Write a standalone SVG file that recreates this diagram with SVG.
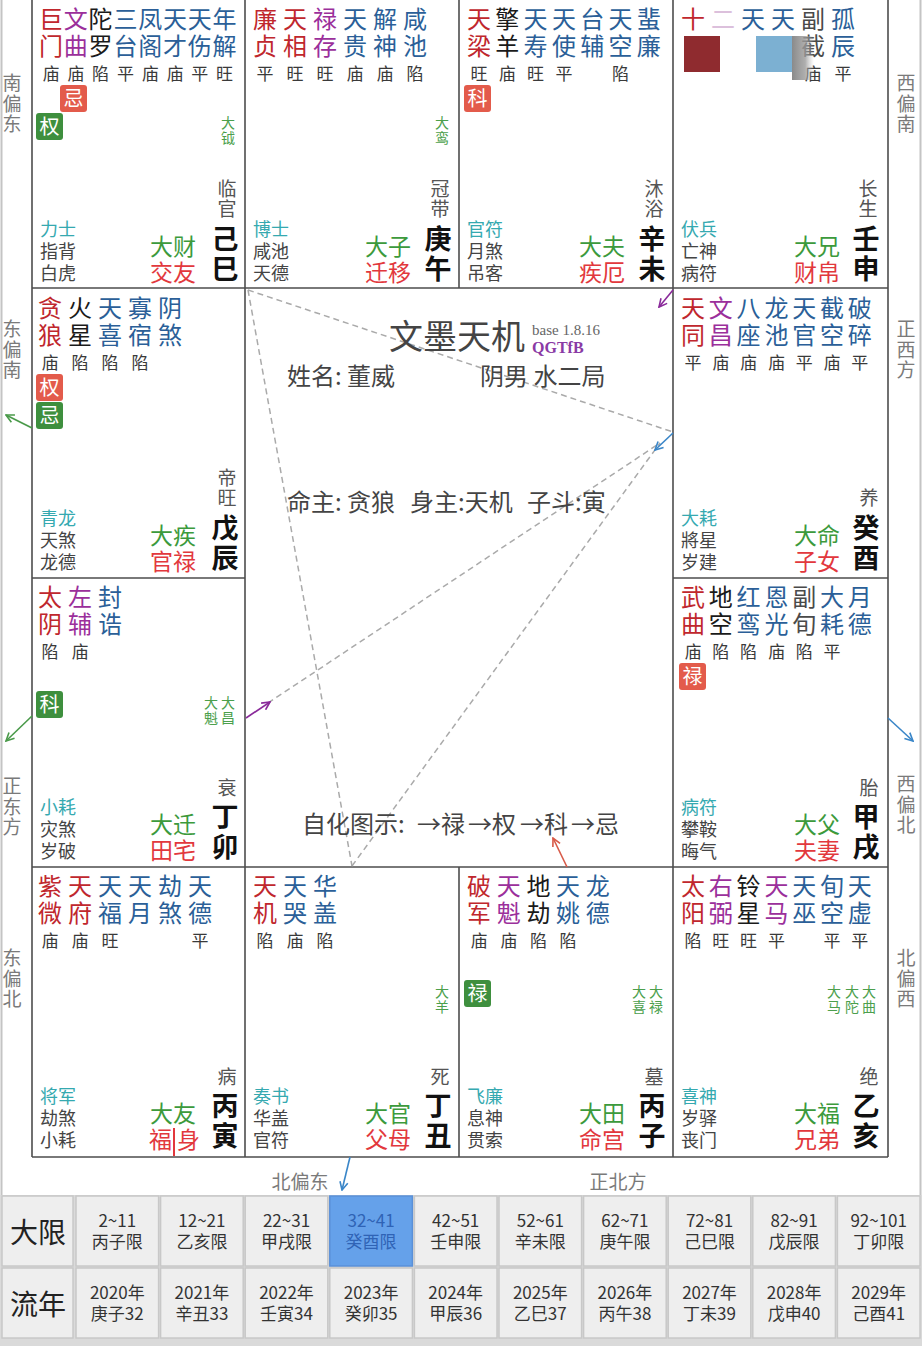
<svg xmlns="http://www.w3.org/2000/svg" width="922" height="1346" viewBox="0 0 922 1346">
<style>
text{font-family:"Noto Sans CJK SC","Noto Sans",sans-serif}
.s{font-size:24px;text-anchor:middle}
.m{fill:#c0272d}.p{fill:#9b2f9b}.k{fill:#1a1a1a}.b{fill:#2b5f98}.g{fill:#4a4a4a}
.br{font-size:17px;fill:#3a3a3a;text-anchor:middle}
.bd{font-size:20px;fill:#fff;text-anchor:middle}
.rb{fill:#e35b4b}.gb{fill:#3e8f3e}
.sm{font-size:14px;fill:#4c9f4c;text-anchor:middle}
.cs{font-size:19px;fill:#555;text-anchor:middle}
.gz{font-size:27px;font-weight:700;fill:#111;text-anchor:middle}
.dg{font-size:23px;fill:#3c9a3c}
.dr{font-size:23px;fill:#e2383d}
.tl{font-size:18px;fill:#35a9b0}
.gs{font-size:18px;fill:#444}
.dir{font-size:19px;fill:#7a7a7a;text-anchor:middle}
.ln{stroke:#4d4d4d;stroke-width:1.6;fill:none}
.dash{stroke:#aaa;stroke-width:1.5;stroke-dasharray:6 4;fill:none}
.tc{fill:#eeeeee;stroke:#c8c8c8;stroke-width:1.5}
.tt{font-size:17px;fill:#333;text-anchor:middle}
.tl2{font-size:28px;fill:#222;text-anchor:middle}
.ct{font-size:24px;fill:#444}
</style>
<defs>
<marker id="ag" viewBox="0 0 10 10" refX="9" refY="5" markerWidth="10" markerHeight="10" markerUnits="userSpaceOnUse" orient="auto"><path d="M1,1 L9,5 L1,9" fill="none" stroke="#4a9a4a" stroke-width="1.6"/></marker>
<marker id="ab" viewBox="0 0 10 10" refX="9" refY="5" markerWidth="10" markerHeight="10" markerUnits="userSpaceOnUse" orient="auto"><path d="M1,1 L9,5 L1,9" fill="none" stroke="#3a86c8" stroke-width="1.6"/></marker>
<marker id="ap" viewBox="0 0 10 10" refX="9" refY="5" markerWidth="10" markerHeight="10" markerUnits="userSpaceOnUse" orient="auto"><path d="M1,1 L9,5 L1,9" fill="none" stroke="#8a2a9a" stroke-width="1.6"/></marker>
<marker id="ar" viewBox="0 0 10 10" refX="9" refY="5" markerWidth="10" markerHeight="10" markerUnits="userSpaceOnUse" orient="auto"><path d="M1,1 L9,5 L1,9" fill="none" stroke="#d85a48" stroke-width="1.6"/></marker>
<linearGradient id="gfade" x1="0" y1="0" x2="1" y2="0"><stop offset="0" stop-color="#8a8a8a"/><stop offset="0.6" stop-color="#9a9a9a" stop-opacity="0.8"/><stop offset="1" stop-color="#bbb" stop-opacity="0"/></linearGradient>
</defs>
<rect x="0" y="0" width="922" height="1346" fill="#fff"/>

<g id="grid">
<line class="ln" x1="32" y1="0" x2="32" y2="1157"/>
<line class="ln" x1="888" y1="0" x2="888" y2="1157"/>
<line class="ln" x1="32" y1="1157" x2="888" y2="1157"/>
<line class="ln" x1="32" y1="288" x2="888" y2="288"/>
<line class="ln" x1="32" y1="867" x2="888" y2="867"/>
<line class="ln" x1="32" y1="578" x2="245" y2="578"/>
<line class="ln" x1="673" y1="578" x2="888" y2="578"/>
<line class="ln" x1="245" y1="0" x2="245" y2="1157"/>
<line class="ln" x1="459" y1="0" x2="459" y2="288"/>
<line class="ln" x1="459" y1="867" x2="459" y2="1157"/>
<line class="ln" x1="673" y1="0" x2="673" y2="1157"/>
<line x1="1.5" y1="0" x2="1.5" y2="1195" stroke="#c4c4c4" stroke-width="2"/>
<line x1="920.5" y1="0" x2="920.5" y2="1195" stroke="#c4c4c4" stroke-width="2"/>
</g>

<g id="directions">
<text class="dir" x="12" y="90">南<tspan x="12" dy="20.5">偏</tspan><tspan x="12" dy="20.5">东</tspan></text>
<text class="dir" x="12" y="336">东<tspan x="12" dy="20.5">偏</tspan><tspan x="12" dy="20.5">南</tspan></text>
<text class="dir" x="12" y="793">正<tspan x="12" dy="20.5">东</tspan><tspan x="12" dy="20.5">方</tspan></text>
<text class="dir" x="12" y="965">东<tspan x="12" dy="20.5">偏</tspan><tspan x="12" dy="20.5">北</tspan></text>
<text class="dir" x="906" y="90">西<tspan x="906" dy="20.5">偏</tspan><tspan x="906" dy="20.5">南</tspan></text>
<text class="dir" x="906" y="336">正<tspan x="906" dy="20.5">西</tspan><tspan x="906" dy="20.5">方</tspan></text>
<text class="dir" x="906" y="791">西<tspan x="906" dy="20.5">偏</tspan><tspan x="906" dy="20.5">北</tspan></text>
<text class="dir" x="906" y="965">北<tspan x="906" dy="20.5">偏</tspan><tspan x="906" dy="20.5">西</tspan></text>
<text class="dir" x="300" y="1189">北偏东</text>
<text class="dir" x="618" y="1189">正北方</text>
</g>

<g id="c-si" transform="translate(32,0)">
<text class="s m" x="19" y="28">巨<tspan x="19" dy="27">门</tspan></text>
<text class="s p" x="43.8" y="28">文<tspan x="43.8" dy="27">曲</tspan></text>
<text class="s k" x="68.6" y="28">陀<tspan x="68.6" dy="27">罗</tspan></text>
<text class="s b" x="93.4" y="28">三<tspan x="93.4" dy="27">台</tspan></text>
<text class="s b" x="118.2" y="28">凤<tspan x="118.2" dy="27">阁</tspan></text>
<text class="s b" x="143" y="28">天<tspan x="143" dy="27">才</tspan></text>
<text class="s b" x="167.8" y="28">天<tspan x="167.8" dy="27">伤</tspan></text>
<text class="s b" x="192.6" y="28">年<tspan x="192.6" dy="27">解</tspan></text>
<text class="br" x="19 43.8 68.6 93.4 118.2 143 167.8 192.6" y="80">庙庙陷平庙庙平旺</text>
<rect class="rb" x="28" y="85" width="27" height="27" rx="3"/><text class="bd" x="41.5" y="106">忌</text>
<rect class="gb" x="4" y="113" width="27" height="27" rx="3"/><text class="bd" x="17.5" y="134">权</text>
<text class="sm" x="196" y="128">大<tspan x="196" dy="15">钺</tspan></text>
<text class="cs" x="195" y="196">临<tspan x="195" dy="20">官</tspan></text>
<text class="gz" x="193" y="249">己<tspan x="193" dy="30">巳</tspan></text>
<text class="dg" x="118" y="255">大财</text><text class="dr" x="118" y="281">交友</text>
<text class="tl" x="8" y="236">力士</text><text class="gs" x="8" y="258">指背</text><text class="gs" x="8" y="280">白虎</text>
</g>

<g id="c-wu" transform="translate(245,0)">
<text class="s m" x="20" y="28">廉<tspan x="20" dy="27">贞</tspan></text>
<text class="s m" x="50" y="28">天<tspan x="50" dy="27">相</tspan></text>
<text class="s p" x="80" y="28">禄<tspan x="80" dy="27">存</tspan></text>
<text class="s b" x="110" y="28">天<tspan x="110" dy="27">贵</tspan></text>
<text class="s b" x="140" y="28">解<tspan x="140" dy="27">神</tspan></text>
<text class="s b" x="170" y="28">咸<tspan x="170" dy="27">池</tspan></text>
<text class="br" x="20 50 80 110 140 170" y="80">平旺旺庙庙陷</text>
<text class="sm" x="197" y="128">大<tspan x="197" dy="15">鸾</tspan></text>
<text class="cs" x="195" y="196">冠<tspan x="195" dy="20">带</tspan></text>
<text class="gz" x="193" y="249">庚<tspan x="193" dy="30">午</tspan></text>
<text class="dg" x="120" y="255">大子</text><text class="dr" x="120" y="281">迁移</text>
<text class="tl" x="8" y="236">博士</text><text class="gs" x="8" y="258">咸池</text><text class="gs" x="8" y="280">天德</text>
</g>

<g id="c-wei" transform="translate(459,0)">
<text class="s m" x="20" y="28">天<tspan x="20" dy="27">梁</tspan></text>
<text class="s k" x="48.3" y="28">擎<tspan x="48.3" dy="27">羊</tspan></text>
<text class="s b" x="76.6" y="28">天<tspan x="76.6" dy="27">寿</tspan></text>
<text class="s b" x="104.9" y="28">天<tspan x="104.9" dy="27">使</tspan></text>
<text class="s b" x="133.2" y="28">台<tspan x="133.2" dy="27">辅</tspan></text>
<text class="s b" x="161.5" y="28">天<tspan x="161.5" dy="27">空</tspan></text>
<text class="s b" x="189.8" y="28">蜚<tspan x="189.8" dy="27">廉</tspan></text>
<text class="br" x="20 48.3 76.6 104.9 161.5" y="80">旺庙旺平陷</text>
<rect class="rb" x="5" y="85" width="27" height="27" rx="3"/><text class="bd" x="18.5" y="106">科</text>
<text class="cs" x="195" y="196">沐<tspan x="195" dy="20">浴</tspan></text>
<text class="gz" x="193" y="249">辛<tspan x="193" dy="30">未</tspan></text>
<text class="dg" x="120" y="255">大夫</text><text class="dr" x="120" y="281">疾厄</text>
<text class="tl" x="8" y="236">官符</text><text class="gs" x="8" y="258">月煞</text><text class="gs" x="8" y="280">吊客</text>
</g>

<g id="c-shen" transform="translate(673,0)">
<text class="s m" x="20" y="28">十</text>
<text class="s" x="50" y="28" fill="#dcc0dc">二</text>
<text class="s b" x="80" y="28">天</text>
<text class="s b" x="110" y="28">天</text>
<text class="s g" x="140" y="28">副<tspan x="140" dy="27">截</tspan></text>
<text class="s b" x="170" y="28">孤<tspan x="170" dy="27">辰</tspan></text>
<text class="br" x="140 170" y="80">庙平</text>
<rect x="11" y="36" width="36" height="36" fill="#8f2b2f"/>
<rect x="83" y="36" width="36" height="36" fill="#7cb0d2"/>
<rect x="119" y="36" width="22" height="44" fill="url(#gfade)"/>
<text class="cs" x="195" y="196">长<tspan x="195" dy="20">生</tspan></text>
<text class="gz" x="193" y="249">壬<tspan x="193" dy="30">申</tspan></text>
<text class="dg" x="121" y="255">大兄</text><text class="dr" x="121" y="281">财帛</text>
<text class="tl" x="8" y="236">伏兵</text><text class="gs" x="8" y="258">亡神</text><text class="gs" x="8" y="280">病符</text>
</g>

<g id="c-chen" transform="translate(32,289)">
<text class="s m" x="18" y="28">贪<tspan x="18" dy="27">狼</tspan></text>
<text class="s k" x="48" y="28">火<tspan x="48" dy="27">星</tspan></text>
<text class="s b" x="78" y="28">天<tspan x="78" dy="27">喜</tspan></text>
<text class="s b" x="108" y="28">寡<tspan x="108" dy="27">宿</tspan></text>
<text class="s b" x="138" y="28">阴<tspan x="138" dy="27">煞</tspan></text>
<text class="br" x="18 48 78 108" y="80">庙陷陷陷</text>
<rect class="rb" x="4" y="85" width="27" height="27" rx="3"/><text class="bd" x="17.5" y="106">权</text>
<rect class="gb" x="4" y="113" width="27" height="27" rx="3"/><text class="bd" x="17.5" y="134">忌</text>
<text class="cs" x="195" y="196">帝<tspan x="195" dy="20">旺</tspan></text>
<text class="gz" x="193" y="249">戊<tspan x="193" dy="30">辰</tspan></text>
<text class="dg" x="118" y="255">大疾</text><text class="dr" x="118" y="281">官禄</text>
<text class="tl" x="8" y="236">青龙</text><text class="gs" x="8" y="258">天煞</text><text class="gs" x="8" y="280">龙德</text>
</g>

<g id="c-you" transform="translate(673,289)">
<text class="s m" x="20" y="28">天<tspan x="20" dy="27">同</tspan></text>
<text class="s p" x="47.8" y="28">文<tspan x="47.8" dy="27">昌</tspan></text>
<text class="s b" x="75.6" y="28">八<tspan x="75.6" dy="27">座</tspan></text>
<text class="s b" x="103.4" y="28">龙<tspan x="103.4" dy="27">池</tspan></text>
<text class="s b" x="131.2" y="28">天<tspan x="131.2" dy="27">官</tspan></text>
<text class="s b" x="159" y="28">截<tspan x="159" dy="27">空</tspan></text>
<text class="s b" x="186.8" y="28">破<tspan x="186.8" dy="27">碎</tspan></text>
<text class="br" x="20 47.8 75.6 103.4 131.2 159 186.8" y="80">平庙庙庙平庙平</text>
<text class="cs" x="196" y="216">养</text>
<text class="gz" x="193" y="249">癸<tspan x="193" dy="30">酉</tspan></text>
<text class="dg" x="121" y="255">大命</text><text class="dr" x="121" y="281">子女</text>
<text class="tl" x="8" y="236">大耗</text><text class="gs" x="8" y="258">將星</text><text class="gs" x="8" y="280">岁建</text>
</g>

<g id="c-mao" transform="translate(32,578)">
<text class="s m" x="18" y="28">太<tspan x="18" dy="27">阴</tspan></text>
<text class="s p" x="48" y="28">左<tspan x="48" dy="27">辅</tspan></text>
<text class="s b" x="78" y="28">封<tspan x="78" dy="27">诰</tspan></text>
<text class="br" x="18 48" y="80">陷庙</text>
<rect class="gb" x="4" y="113" width="27" height="27" rx="3"/><text class="bd" x="17.5" y="134">科</text>
<text class="sm" x="179" y="130">大<tspan x="179" dy="15">魁</tspan></text>
<text class="sm" x="196" y="130">大<tspan x="196" dy="15">昌</tspan></text>
<text class="cs" x="195" y="217">衰</text>
<text class="gz" x="193" y="249">丁<tspan x="193" dy="30">卯</tspan></text>
<text class="dg" x="118" y="255">大迁</text><text class="dr" x="118" y="281">田宅</text>
<text class="tl" x="8" y="236">小耗</text><text class="gs" x="8" y="258">灾煞</text><text class="gs" x="8" y="280">岁破</text>
</g>

<g id="c-xu" transform="translate(673,578)">
<text class="s m" x="20" y="28">武<tspan x="20" dy="27">曲</tspan></text>
<text class="s k" x="47.8" y="28">地<tspan x="47.8" dy="27">空</tspan></text>
<text class="s b" x="75.6" y="28">红<tspan x="75.6" dy="27">鸾</tspan></text>
<text class="s b" x="103.4" y="28">恩<tspan x="103.4" dy="27">光</tspan></text>
<text class="s g" x="131.2" y="28">副<tspan x="131.2" dy="27">旬</tspan></text>
<text class="s b" x="159" y="28">大<tspan x="159" dy="27">耗</tspan></text>
<text class="s b" x="186.8" y="28">月<tspan x="186.8" dy="27">德</tspan></text>
<text class="br" x="20 47.8 75.6 103.4 131.2 159" y="80">庙陷陷庙陷平</text>
<rect class="rb" x="6" y="85" width="27" height="27" rx="3"/><text class="bd" x="19.5" y="106">禄</text>
<text class="cs" x="196" y="217">胎</text>
<text class="gz" x="193" y="249">甲<tspan x="193" dy="30">戌</tspan></text>
<text class="dg" x="121" y="255">大父</text><text class="dr" x="121" y="281">夫妻</text>
<text class="tl" x="8" y="236">病符</text><text class="gs" x="8" y="258">攀鞍</text><text class="gs" x="8" y="280">晦气</text>
</g>

<g id="c-yin" transform="translate(32,867)">
<text class="s m" x="18" y="28">紫<tspan x="18" dy="27">微</tspan></text>
<text class="s m" x="48" y="28">天<tspan x="48" dy="27">府</tspan></text>
<text class="s b" x="78" y="28">天<tspan x="78" dy="27">福</tspan></text>
<text class="s b" x="108" y="28">天<tspan x="108" dy="27">月</tspan></text>
<text class="s b" x="138" y="28">劫<tspan x="138" dy="27">煞</tspan></text>
<text class="s b" x="168" y="28">天<tspan x="168" dy="27">德</tspan></text>
<text class="br" x="18 48 78 168" y="80">庙庙旺平</text>
<text class="cs" x="195" y="217">病</text>
<text class="gz" x="193" y="249">丙<tspan x="193" dy="30">寅</tspan></text>
<text class="dg" x="118" y="255">大友</text>
<text class="dr" x="117" y="281">福</text><text class="dr" x="145" y="281">身</text>
<line x1="142" y1="261" x2="142" y2="289" stroke="#e2383d" stroke-width="2"/>
<text class="tl" x="8" y="236">将军</text><text class="gs" x="8" y="258">劫煞</text><text class="gs" x="8" y="280">小耗</text>
</g>

<g id="c-chou" transform="translate(245,867)">
<text class="s m" x="20" y="28">天<tspan x="20" dy="27">机</tspan></text>
<text class="s b" x="50" y="28">天<tspan x="50" dy="27">哭</tspan></text>
<text class="s b" x="80" y="28">华<tspan x="80" dy="27">盖</tspan></text>
<text class="br" x="20 50 80" y="80">陷庙陷</text>
<text class="sm" x="197" y="130">大<tspan x="197" dy="15">羊</tspan></text>
<text class="cs" x="195" y="217">死</text>
<text class="gz" x="193" y="249">丁<tspan x="193" dy="30">丑</tspan></text>
<text class="dg" x="120" y="255">大官</text><text class="dr" x="120" y="281">父母</text>
<text class="tl" x="8" y="236">奏书</text><text class="gs" x="8" y="258">华盖</text><text class="gs" x="8" y="280">官符</text>
</g>

<g id="c-zi" transform="translate(459,867)">
<text class="s m" x="20" y="28">破<tspan x="20" dy="27">军</tspan></text>
<text class="s p" x="49.7" y="28">天<tspan x="49.7" dy="27">魁</tspan></text>
<text class="s k" x="79.4" y="28">地<tspan x="79.4" dy="27">劫</tspan></text>
<text class="s b" x="109.1" y="28">天<tspan x="109.1" dy="27">姚</tspan></text>
<text class="s b" x="138.8" y="28">龙<tspan x="138.8" dy="27">德</tspan></text>
<text class="br" x="20 49.7 79.4 109.1" y="80">庙庙陷陷</text>
<rect class="gb" x="5" y="113" width="27" height="27" rx="3"/><text class="bd" x="18.5" y="134">禄</text>
<text class="sm" x="180" y="130">大<tspan x="180" dy="15">喜</tspan></text>
<text class="sm" x="197" y="130">大<tspan x="197" dy="15">禄</tspan></text>
<text class="cs" x="195" y="217">墓</text>
<text class="gz" x="193" y="249">丙<tspan x="193" dy="30">子</tspan></text>
<text class="dg" x="120" y="255">大田</text><text class="dr" x="120" y="281">命宫</text>
<text class="tl" x="8" y="236">飞廉</text><text class="gs" x="8" y="258">息神</text><text class="gs" x="8" y="280">贯索</text>
</g>

<g id="c-hai" transform="translate(673,867)">
<text class="s m" x="20" y="28">太<tspan x="20" dy="27">阳</tspan></text>
<text class="s p" x="47.8" y="28">右<tspan x="47.8" dy="27">弼</tspan></text>
<text class="s k" x="75.6" y="28">铃<tspan x="75.6" dy="27">星</tspan></text>
<text class="s p" x="103.4" y="28">天<tspan x="103.4" dy="27">马</tspan></text>
<text class="s b" x="131.2" y="28">天<tspan x="131.2" dy="27">巫</tspan></text>
<text class="s b" x="159" y="28">旬<tspan x="159" dy="27">空</tspan></text>
<text class="s b" x="186.8" y="28">天<tspan x="186.8" dy="27">虚</tspan></text>
<text class="br" x="20 47.8 75.6 103.4 159 186.8" y="80">陷旺旺平平平</text>
<text class="sm" x="161" y="130">大<tspan x="161" dy="15">马</tspan></text>
<text class="sm" x="179" y="130">大<tspan x="179" dy="15">陀</tspan></text>
<text class="sm" x="196" y="130">大<tspan x="196" dy="15">曲</tspan></text>
<text class="cs" x="196" y="217">绝</text>
<text class="gz" x="193" y="249">乙<tspan x="193" dy="30">亥</tspan></text>
<text class="dg" x="121" y="255">大福</text><text class="dr" x="121" y="281">兄弟</text>
<text class="tl" x="8" y="236">喜神</text><text class="gs" x="8" y="258">岁驿</text><text class="gs" x="8" y="280">丧门</text>
</g>

<g id="connectors">
<line class="dash" x1="248" y1="290" x2="673" y2="432"/>
<line class="dash" x1="248" y1="290" x2="352" y2="866"/>
<line class="dash" x1="352" y1="866" x2="660" y2="443"/>
<line class="dash" x1="268" y1="703" x2="660" y2="443"/>
<line x1="673" y1="433" x2="655" y2="450" stroke="#3a86c8" stroke-width="1.6" marker-end="url(#ab)"/>
<line x1="673" y1="290" x2="659" y2="307" stroke="#8a2a9a" stroke-width="1.6" marker-end="url(#ap)"/>
<line x1="246" y1="718" x2="270" y2="702" stroke="#8a2a9a" stroke-width="1.6" marker-end="url(#ap)"/>
<line x1="567" y1="867" x2="553" y2="838" stroke="#d85a48" stroke-width="1.6" marker-end="url(#ar)"/>
<line x1="32" y1="428" x2="6" y2="415" stroke="#4a9a4a" stroke-width="1.6" marker-end="url(#ag)"/>
<line x1="32" y1="716" x2="6" y2="741" stroke="#4a9a4a" stroke-width="1.6" marker-end="url(#ag)"/>
<line x1="888" y1="718" x2="913" y2="741" stroke="#3a86c8" stroke-width="1.6" marker-end="url(#ab)"/>
<line x1="350" y1="1157" x2="342" y2="1190" stroke="#3a86c8" stroke-width="1.6" marker-end="url(#ab)"/>
</g>

<g id="center">
<text x="389" y="349" font-size="34" fill="#444">文墨天机</text>
<text x="532" y="335" font-size="15" fill="#666" style="font-family:'Liberation Serif',serif">base 1.8.16</text>
<text x="532" y="353" font-size="16" font-weight="bold" fill="#8a3aa5" style="font-family:'Liberation Serif',serif">QGTfB</text>
<text class="ct" x="287" y="385">姓名: 董威</text>
<text class="ct" x="480" y="385">阴男 水二局</text>
<text class="ct" x="287" y="511">命主: 贪狼</text>
<text class="ct" x="410" y="511">身主:天机</text>
<text class="ct" x="527" y="511">子斗:寅</text>
<text class="ct" x="302" y="833">自化图示:</text>
<text class="ct" x="417" y="833" fill="#3c9a3c">→禄</text>
<text class="ct" x="468" y="833" fill="#8a2a8a">→权</text>
<text class="ct" x="520" y="833" fill="#3a8ad0">→科</text>
<text class="ct" x="571" y="833" fill="#e0705a">→忌</text>
</g>

<g id="table">
<rect x="0" y="1195" width="922" height="151" fill="#dadada"/>
<rect class="tc" x="2" y="1196" width="71" height="70"/>
<rect class="tc" x="2" y="1268" width="71" height="70"/>
<text class="tl2" x="38" y="1243">大限</text>
<text class="tl2" x="38" y="1315">流年</text>
<g>
<rect class="tc" x="76" y="1196" width="82.6" height="70"/>
<rect class="tc" x="160.6" y="1196" width="82.6" height="70"/>
<rect class="tc" x="245.2" y="1196" width="82.6" height="70"/>
<rect x="329.8" y="1196" width="82.6" height="70" fill="#65a1ea" stroke="#5a90d8" stroke-width="1.5"/>
<rect class="tc" x="414.4" y="1196" width="82.6" height="70"/>
<rect class="tc" x="499" y="1196" width="82.6" height="70"/>
<rect class="tc" x="583.6" y="1196" width="82.6" height="70"/>
<rect class="tc" x="668.2" y="1196" width="82.6" height="70"/>
<rect class="tc" x="752.8" y="1196" width="82.6" height="70"/>
<rect class="tc" x="837.4" y="1196" width="82.6" height="70"/>
<rect class="tc" x="76" y="1268" width="82.6" height="70"/>
<rect class="tc" x="160.6" y="1268" width="82.6" height="70"/>
<rect class="tc" x="245.2" y="1268" width="82.6" height="70"/>
<rect class="tc" x="329.8" y="1268" width="82.6" height="70"/>
<rect class="tc" x="414.4" y="1268" width="82.6" height="70"/>
<rect class="tc" x="499" y="1268" width="82.6" height="70"/>
<rect class="tc" x="583.6" y="1268" width="82.6" height="70"/>
<rect class="tc" x="668.2" y="1268" width="82.6" height="70"/>
<rect class="tc" x="752.8" y="1268" width="82.6" height="70"/>
<rect class="tc" x="837.4" y="1268" width="82.6" height="70"/>
</g>
<text class="tt" x="117.3" y="1227">2~11<tspan x="117.3" dy="21">丙子限</tspan></text>
<text class="tt" x="201.9" y="1227">12~21<tspan x="201.9" dy="21">乙亥限</tspan></text>
<text class="tt" x="286.5" y="1227">22~31<tspan x="286.5" dy="21">甲戌限</tspan></text>
<text class="tt" x="371.1" y="1227" style="fill:#2f63b5">32~41<tspan x="371.1" dy="21">癸酉限</tspan></text>
<text class="tt" x="455.7" y="1227">42~51<tspan x="455.7" dy="21">壬申限</tspan></text>
<text class="tt" x="540.3" y="1227">52~61<tspan x="540.3" dy="21">辛未限</tspan></text>
<text class="tt" x="624.9" y="1227">62~71<tspan x="624.9" dy="21">庚午限</tspan></text>
<text class="tt" x="709.5" y="1227">72~81<tspan x="709.5" dy="21">己巳限</tspan></text>
<text class="tt" x="794.1" y="1227">82~91<tspan x="794.1" dy="21">戊辰限</tspan></text>
<text class="tt" x="878.7" y="1227">92~101<tspan x="878.7" dy="21">丁卯限</tspan></text>
<text class="tt" x="117.3" y="1299">2020年<tspan x="117.3" dy="21">庚子32</tspan></text>
<text class="tt" x="201.9" y="1299">2021年<tspan x="201.9" dy="21">辛丑33</tspan></text>
<text class="tt" x="286.5" y="1299">2022年<tspan x="286.5" dy="21">壬寅34</tspan></text>
<text class="tt" x="371.1" y="1299">2023年<tspan x="371.1" dy="21">癸卯35</tspan></text>
<text class="tt" x="455.7" y="1299">2024年<tspan x="455.7" dy="21">甲辰36</tspan></text>
<text class="tt" x="540.3" y="1299">2025年<tspan x="540.3" dy="21">乙巳37</tspan></text>
<text class="tt" x="624.9" y="1299">2026年<tspan x="624.9" dy="21">丙午38</tspan></text>
<text class="tt" x="709.5" y="1299">2027年<tspan x="709.5" dy="21">丁未39</tspan></text>
<text class="tt" x="794.1" y="1299">2028年<tspan x="794.1" dy="21">戊申40</tspan></text>
<text class="tt" x="878.7" y="1299">2029年<tspan x="878.7" dy="21">己酉41</tspan></text>
</g>
</svg>
